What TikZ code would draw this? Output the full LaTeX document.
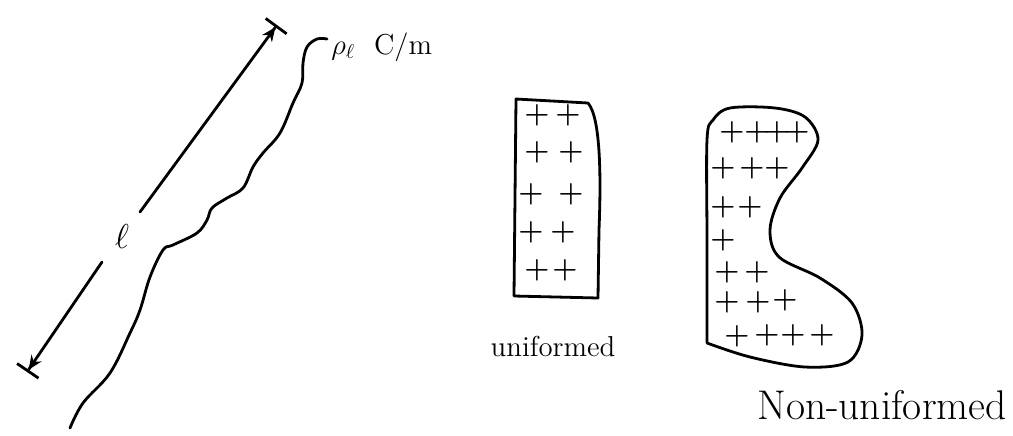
\documentclass[tikz,border=0pt]{standalone}
\usetikzlibrary{arrows.meta}
\begin{document}
\begin{tikzpicture}[x=0.5pt, y=-0.5pt, line width=1.4pt, line cap=round, line join=round,
  dim/.style={-{Stealth[length=7pt,width=6pt]Bar[width=13pt]}},
  chg/.style={inner sep=0pt, font=\Large\boldmath},
  lbl/.style={inner sep=1pt, font=\Large}]
  \useasboundingbox (0,0) rectangle (1013,435);
  % line charge and its length
  \draw plot[smooth, tension=0.6] coordinates {(70,428) (83,403) (110,373) (130,333)
    (140,310) (150,277) (163,250) (173,245) (197,233) (207,220) (212,208) (227,198)
    (243,188) (253,167) (263,153) (280,133) (293,103) (302,83) (303,63) (307,47)
    (317,39) (327,39)};
  \node[lbl, font=\LARGE] (len) at (122,236) {$\ell$};
  \node[lbl, anchor=west] (rho) at (328,47) {$\rho_\ell$\ \ C/m};
  \coordinate (top) at (277,25);
  \coordinate (bot) at (27,372);
  \draw[dim] (140,212) -- (top);
  \draw[dim] (102,262) -- (bot);
  % uniform distribution
  \draw (516,99) -- (588,103) .. controls (601,118) and (601,180) .. (599,230)
    -- (598,298) -- (514,296) -- cycle;
  \foreach \px/\py [count=\i] in {537/115, 568/115, 537/152, 571/152, 531/194, 571/194,
      531/232, 563/232, 537/270, 565/270}
    \node[chg] (u\i) at (\px,\py) {$+$};
  \node[lbl] (uni) at (553,346) {uniformed};
  % non-uniform distribution
  \draw plot[smooth, tension=0.55] coordinates {(707,343) (707,240) (707,140)
    (713,120) (730,108) (775,108) (805,117) (818,140) (802,168) (780,198) (770,230)
    (779,257) (820,278) (852,303) (862,335) (848,362) (805,367) (750,357) (707,343)};
  \foreach \px/\py [count=\i] in {732/132, 757/132, 777/132, 797/132, 723/168, 752/168,
      777/168, 723/207, 750/207, 723/240, 727/272, 757/272, 727/302, 758/302, 785/300,
      737/336, 767/335, 793/335, 822/335}
    \node[chg] (n\i) at (\px,\py) {$+$};
  \node[lbl, font=\huge] (non) at (882,405) {Non-uniformed};
\end{tikzpicture}
\end{document}
